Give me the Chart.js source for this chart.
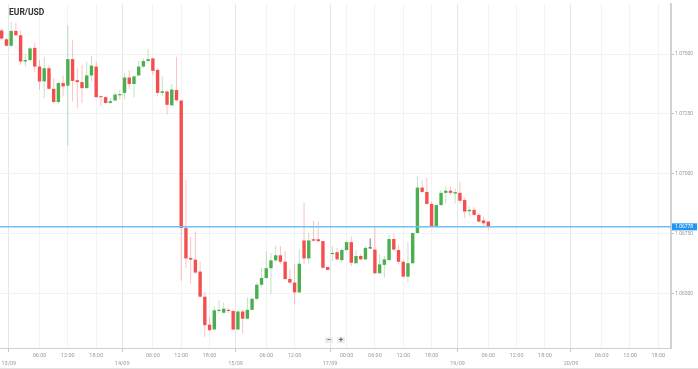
<!DOCTYPE html>
<html>
<head>
<meta charset="utf-8">
<script src="https://cdn.jsdelivr.net/npm/chart.js@4.4.1/dist/chart.umd.min.js"></script>
<style>
  body { margin: 0; background: #fff; }
  #wrap { position: relative; width: 698px; height: 369px; }
</style>
</head>
<body>
<div id="wrap"><canvas id="fxChart"></canvas></div>
<script>
// EUR/USD hourly candles (12/09 22:00 -> 19/09 05:00)
var opens = [
  1.07599, 1.07562, 1.07535, 1.07597, 1.07579, 1.07469, 1.07475, 1.07526, 1.07448, 1.07386,
  1.07441, 1.07355, 1.07300, 1.07379, 1.07368, 1.07479, 1.07391, 1.07383, 1.07358, 1.07411,
  1.07448, 1.07324, 1.07320, 1.07296, 1.07306, 1.07328, 1.07338, 1.07402, 1.07375, 1.07411,
  1.07448, 1.07471, 1.07482, 1.07434, 1.07338, 1.07344, 1.07286, 1.07350, 1.07306, 1.06773,
  1.06648, 1.06641, 1.06591, 1.06486, 1.06369, 1.06349, 1.06426, 1.06419, 1.06431, 1.06426,
  1.06349, 1.06424, 1.06394, 1.06431, 1.06477, 1.06536, 1.06564, 1.06605, 1.06638, 1.06659,
  1.06632, 1.06560, 1.06545, 1.06504, 1.06721, 1.06646, 1.06726, 1.06726, 1.06718, 1.06610,
  1.06664, 1.06672, 1.06639, 1.06681, 1.06714, 1.06626, 1.06656, 1.06642, 1.06690, 1.06683,
  1.06584, 1.06619, 1.06639, 1.06727, 1.06681, 1.06632, 1.06570, 1.06626, 1.06752, 1.06942,
  1.06924, 1.06874, 1.06780, 1.06869, 1.06920, 1.06929, 1.06917, 1.06920, 1.06890, 1.06843,
  1.06849, 1.06828, 1.06805, 1.06800
];
var highs = [
  1.07606, 1.07568, 1.07634, 1.07631, 1.07599, 1.07503, 1.07531, 1.07548, 1.07475, 1.07489,
  1.07452, 1.07400, 1.07383, 1.07411, 1.07620, 1.07558, 1.07441, 1.07455, 1.07469, 1.07493,
  1.07469, 1.07328, 1.07324, 1.07317, 1.07338, 1.07351, 1.07420, 1.07434, 1.07411, 1.07471,
  1.07482, 1.07521, 1.07485, 1.07441, 1.07407, 1.07348, 1.07375, 1.07489, 1.07306, 1.06973,
  1.06738, 1.06759, 1.06632, 1.06508, 1.06401, 1.06445, 1.06470, 1.06463, 1.06438, 1.06431,
  1.06429, 1.06431, 1.06483, 1.06483, 1.06545, 1.06607, 1.06676, 1.06669, 1.06697, 1.06697,
  1.06676, 1.06601, 1.06624, 1.06683, 1.06880, 1.06752, 1.06803, 1.06800, 1.06720, 1.06610,
  1.06697, 1.06690, 1.06686, 1.06718, 1.06738, 1.06681, 1.06663, 1.06697, 1.06729, 1.06780,
  1.06663, 1.06656, 1.06745, 1.06750, 1.06700, 1.06639, 1.06714, 1.06755, 1.06989, 1.06973,
  1.06983, 1.06883, 1.06874, 1.06931, 1.06948, 1.06948, 1.06938, 1.06966, 1.06897, 1.06862,
  1.06860, 1.06838, 1.06821, 1.06800
];
var lows = [
  1.07558, 1.07531, 1.07531, 1.07576, 1.07455, 1.07448, 1.07469, 1.07424, 1.07351, 1.07317,
  1.07351, 1.07292, 1.07289, 1.07324, 1.07117, 1.07303, 1.07273, 1.07296, 1.07355, 1.07386,
  1.07317, 1.07283, 1.07292, 1.07292, 1.07303, 1.07310, 1.07310, 1.07355, 1.07320, 1.07407,
  1.07441, 1.07469, 1.07413, 1.07324, 1.07324, 1.07248, 1.07283, 1.07303, 1.06553, 1.06607,
  1.06541, 1.06583, 1.06483, 1.06318, 1.06343, 1.06346, 1.06417, 1.06415, 1.06419, 1.06346,
  1.06346, 1.06332, 1.06391, 1.06429, 1.06470, 1.06525, 1.06560, 1.06498, 1.06632, 1.06624,
  1.06555, 1.06539, 1.06453, 1.06500, 1.06621, 1.06624, 1.06718, 1.06715, 1.06602, 1.06596,
  1.06635, 1.06639, 1.06628, 1.06676, 1.06614, 1.06621, 1.06639, 1.06639, 1.06686, 1.06580,
  1.06580, 1.06566, 1.06635, 1.06676, 1.06621, 1.06566, 1.06545, 1.06621, 1.06752, 1.06917,
  1.06869, 1.06777, 1.06777, 1.06865, 1.06876, 1.06911, 1.06876, 1.06876, 1.06814, 1.06821,
  1.06821, 1.06796, 1.06773, 1.06766
];
var closes = [
  1.07565, 1.07535, 1.07597, 1.07579, 1.07469, 1.07475, 1.07524, 1.07448, 1.07386, 1.07441,
  1.07355, 1.07300, 1.07379, 1.07365, 1.07479, 1.07388, 1.07383, 1.07358, 1.07411, 1.07452,
  1.07320, 1.07320, 1.07296, 1.07303, 1.07331, 1.07333, 1.07402, 1.07375, 1.07407, 1.07448,
  1.07471, 1.07479, 1.07430, 1.07338, 1.07345, 1.07288, 1.07352, 1.07307, 1.06773, 1.06646,
  1.06641, 1.06587, 1.06486, 1.06367, 1.06346, 1.06429, 1.06431, 1.06436, 1.06426, 1.06349,
  1.06424, 1.06394, 1.06431, 1.06477, 1.06536, 1.06564, 1.06605, 1.06638, 1.06659, 1.06632,
  1.06560, 1.06545, 1.06504, 1.06624, 1.06646, 1.06721, 1.06720, 1.06718, 1.06607, 1.06598,
  1.06669, 1.06642, 1.06681, 1.06714, 1.06628, 1.06656, 1.06642, 1.06690, 1.06688, 1.06584,
  1.06621, 1.06642, 1.06727, 1.06683, 1.06632, 1.06570, 1.06626, 1.06752, 1.06942, 1.06924,
  1.06874, 1.06780, 1.06869, 1.06920, 1.06929, 1.06920, 1.06923, 1.06887, 1.06842, 1.06849,
  1.06828, 1.06800, 1.06793, 1.06778
];
// candle that is drawn grey (cursor hover in the original)
var hoverCandle = 78;

// time axis, in candle slots (weekend removed between 15/09 and 17/09)
var timeSlots  = [1.5, 8, 14, 20, 25.5, 32, 38, 44, 49.5, 56, 62, 69.5, 73, 79, 85, 91, 96.5, 103, 109, 115, 120.5, 127, 133, 139];
var timeLabels = ['13/09', '06:00', '12:00', '18:00', '14/09', '06:00', '12:00', '18:00', '15/09', '06:00', '12:00',
                  '17/09', '00:00', '06:00', '12:00', '18:00', '19/09', '06:00', '12:00', '18:00', '20/09', '06:00', '12:00', '18:00'];
var priceTicks = [1.065, 1.0675, 1.07, 1.0725, 1.075];
var symbol = 'EUR/USD';

var UP = '#4caf50', DOWN = '#f44f4f';
var UP_WICK = 'rgba(76,175,80,0.35)', DOWN_WICK = 'rgba(244,79,79,0.35)';

function isDay(label) {
  return label.indexOf('/') > 0;
}

function labelFor(value) {
  var i = timeSlots.indexOf(value);
  return i < 0 ? '' : timeLabels[i];
}

var bodyColors = [], wickColors = [], wicks = [], bodies = [];
for (var i = 0; i < opens.length; i++) {
  var up = closes[i] >= opens[i];
  bodyColors.push(i == hoverCandle ? '#444' : (up ? UP : DOWN));
  wickColors.push(i == hoverCandle ? '#777' : (up ? UP_WICK : DOWN_WICK));
  wicks.push({ x: i, y: [lows[i], highs[i]] });
  bodies.push({ x: i, y: [opens[i], closes[i]] });
}

var lastPrice = closes[closes.length - 1];

var overlay = {
  id: 'overlay',
  afterDatasetsDraw: function (chart) {
    var ctx = chart.ctx, area = chart.chartArea;
    var y = chart.scales.y.getPixelForValue(lastPrice);
    ctx.save();
    // current price line
    ctx.strokeStyle = '#6ec1f5';
    ctx.lineWidth = 1.5;
    ctx.beginPath();
    ctx.moveTo(area.left, y);
    ctx.lineTo(area.right, y);
    ctx.stroke();
    ctx.restore();
  },
  afterDraw: function (chart) {
    var ctx = chart.ctx, area = chart.chartArea;
    var y = chart.scales.y.getPixelForValue(lastPrice);
    ctx.save();
    // price tag on the axis
    ctx.fillStyle = '#2196f3';
    ctx.fillRect(area.right + 1, y - 3.5, 25, 7);
    ctx.fillStyle = '#fff';
    ctx.font = '5px Roboto';
    ctx.textBaseline = 'middle';
    ctx.fillText(lastPrice.toFixed(5), area.right + 4, y + 0.3);

    // title
    ctx.fillStyle = '#333';
    ctx.font = 'bold 8.5px Roboto';
    ctx.textBaseline = 'alphabetic';
    ctx.fillText(symbol, 9, 15);

    // zoom buttons
    ctx.fillStyle = '#ececec';
    ctx.fillRect(325, 337, 8, 6);
    ctx.fillRect(337, 337, 8, 6);
    ctx.fillStyle = '#666';
    ctx.font = 'bold 8px Roboto';
    ctx.textAlign = 'center';
    ctx.textBaseline = 'middle';
    ctx.fillText('\u2212', 329, 340);
    ctx.fillText('+', 341, 340);

    // bottom frame
    ctx.fillStyle = '#e2e2e2';
    ctx.fillRect(0, 368, chart.width, 1);
    ctx.restore();
  }
};

new Chart('fxChart', {
  type: 'bar',
  data: {
    datasets: [{
      label: 'wick',
      data: wicks,
      backgroundColor: wickColors,
      barThickness: 1,
      inflateAmount: 0,
      grouped: false
    }, {
      label: 'body',
      data: bodies,
      backgroundColor: bodyColors,
      barThickness: 3.4,
      minBarLength: 1,
      inflateAmount: 0,
      grouped: false
    }]
  },
  options: {
    responsive: true,
    maintainAspectRatio: false,
    animation: false,
    layout: { padding: 0 },
    plugins: {
      legend: { display: false },
      tooltip: { enabled: false }
    },
    scales: {
      x: {
        type: 'linear',
        offset: false,
        min: -0.36,
        max: 141.68,
        afterBuildTicks: function (scale) {
          scale.ticks = timeSlots.map(function (v) { return { value: v }; });
        },
        afterFit: function (scale) { scale.height = 21; },
        border: { color: '#d0d0d0', width: 1 },
        grid: {
          offset: false,
          color: function (c) { return c.tick && isDay(labelFor(c.tick.value)) ? '#e6e6e6' : '#f2f2f2'; },
          tickColor: function (c) { return c.tick && isDay(labelFor(c.tick.value)) ? '#c8c8c8' : 'rgba(0,0,0,0)'; },
          tickLength: 4
        },
        ticks: {
          autoSkip: false,
          maxRotation: 0,
          padding: 0,
          color: '#9a9a9a',
          font: { family: 'Roboto', size: 5.5, lineHeight: 1.35 },
          callback: function (value) {
            var t = labelFor(value);
            return isDay(t) ? ['', t] : t;
          }
        }
      },
      y: {
        position: 'right',
        min: 1.062715,
        max: 1.077095,
        afterBuildTicks: function (scale) {
          scale.ticks = priceTicks.map(function (v) { return { value: v }; });
        },
        afterFit: function (scale) { scale.width = 27; },
        border: { color: '#d2d2d2', width: 2 },
        grid: { color: '#f2f2f2', tickColor: '#c0c0c0', tickLength: 3 },
        ticks: {
          padding: 1,
          color: '#9a9a9a',
          font: { family: 'Roboto', size: 5 },
          callback: function (value) { return value.toFixed(5); }
        }
      }
    }
  },
  plugins: [overlay]
});
</script>
</body>
</html>
